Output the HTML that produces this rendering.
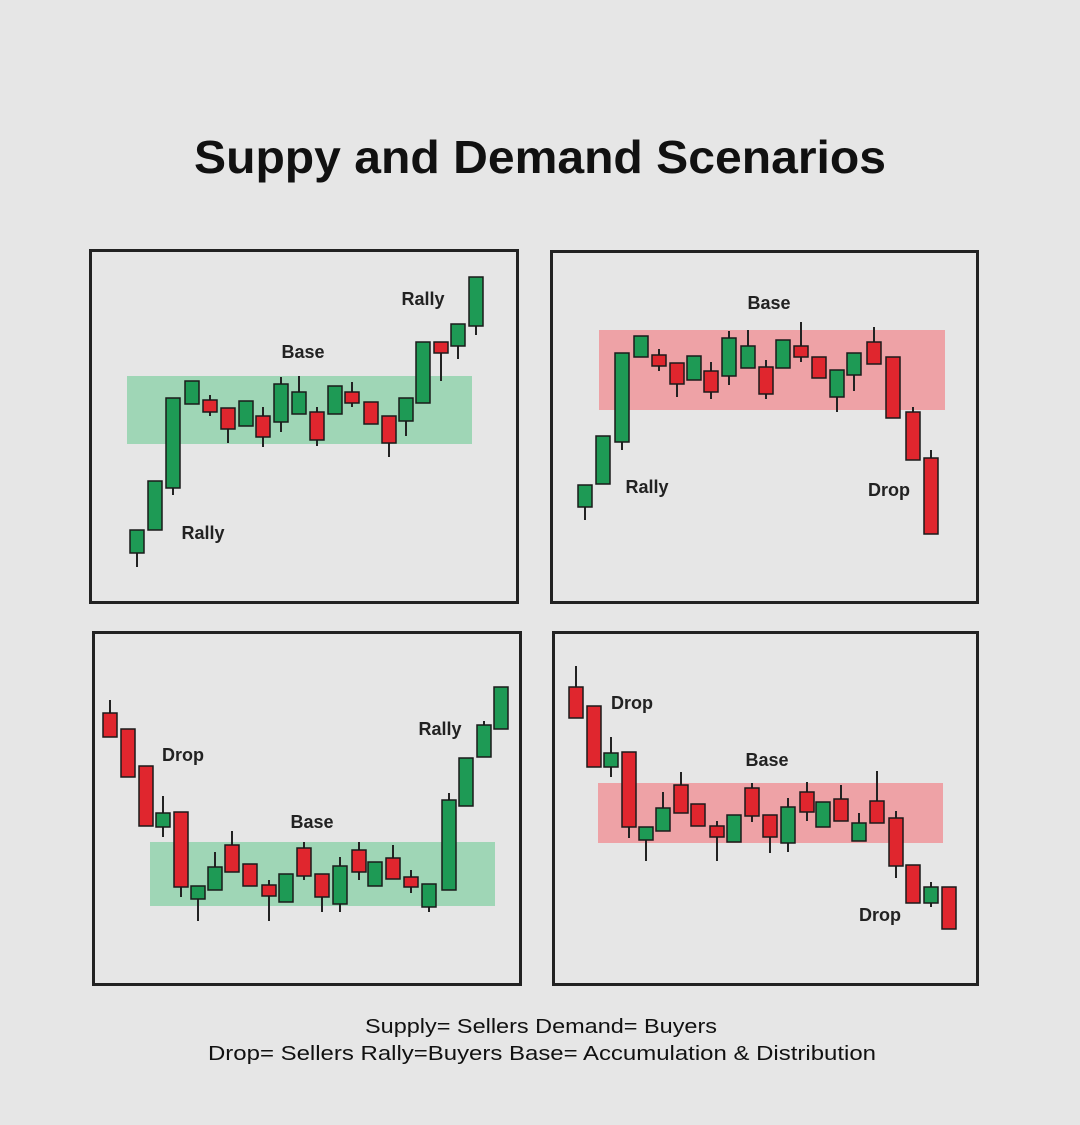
<!DOCTYPE html>
<html><head><meta charset="utf-8"><style>
html,body{margin:0;padding:0;background:#e6e6e6;}
svg{display:block;}
text{font-family:"Liberation Sans",sans-serif;}
</style></head><body>
<svg id="s" width="1080" height="1125" viewBox="0 0 1080 1125" xmlns="http://www.w3.org/2000/svg">
<rect width="1080" height="1125" fill="#e6e6e6"/>
<text x="540" y="173" text-anchor="middle" font-size="46" font-weight="bold" fill="#111" textLength="692" lengthAdjust="spacingAndGlyphs">Suppy and Demand Scenarios</text>
<g fill="none" stroke="#222" stroke-width="3">
<rect x="90.5" y="250.5" width="427" height="352"/>
<rect x="551.5" y="251.5" width="426" height="351"/>
<rect x="93.5" y="632.5" width="427" height="352"/>
<rect x="553.5" y="632.5" width="424" height="352"/>
</g>
<rect x="127" y="376" width="345" height="68" fill="#9fd6b6"/>
<rect x="599" y="330" width="346" height="80" fill="#eea2a6"/>
<rect x="150" y="842" width="345" height="64" fill="#9fd6b6"/>
<rect x="598" y="783" width="345" height="60" fill="#eea2a6"/>
<g id="c"></g>
<g font-size="18" font-weight="bold" fill="#222" text-anchor="middle">
<text x="303" y="358">Base</text>
<text x="203" y="539">Rally</text>
<text x="423" y="305">Rally</text>
<text x="769" y="309">Base</text>
<text x="647" y="493">Rally</text>
<text x="889" y="496">Drop</text>
<text x="183" y="761">Drop</text>
<text x="312" y="828">Base</text>
<text x="440" y="735">Rally</text>
<text x="632" y="709">Drop</text>
<text x="767" y="766">Base</text>
<text x="880" y="921">Drop</text>
</g>
<g font-size="20" fill="#111" text-anchor="middle">
<text x="541" y="1033" textLength="352" lengthAdjust="spacingAndGlyphs">Supply= Sellers Demand= Buyers</text>
<text x="542" y="1060" textLength="668" lengthAdjust="spacingAndGlyphs">Drop= Sellers Rally=Buyers Base= Accumulation &amp; Distribution</text>
</g>
</svg>
<script>
// x, bodyTop, bodyBottom, wickTop, wickBottom, color
var G='#1e9a55',R='#e0262e';
var d=[
[137,530,553,530,567,G],[155,481,530,481,530,G],[173,398,488,398,495,G],[192,381,404,381,404,G],[210,400,412,395,416,R],[228,408,429,408,443,R],[246,401,426,401,426,G],[263,416,437,407,447,R],[281,384,422,377,432,G],[299,392,414,376,414,G],[317,412,440,407,446,R],[335,386,414,386,414,G],[352,392,403,382,407,R],[371,402,424,402,424,R],[389,416,443,416,457,R],[406,398,421,398,436,G],[423,342,403,342,403,G],[441,342,353,342,381,R],[458,324,346,324,359,G],[476,277,326,277,335,G],
[585,485,507,485,520,G],[603,436,484,436,484,G],[622,353,442,353,450,G],[641,336,357,336,357,G],[659,355,366,349,371,R],[677,363,384,363,397,R],[694,356,380,356,380,G],[711,371,392,362,399,R],[729,338,376,331,385,G],[748,346,368,330,368,G],[766,367,394,360,399,R],[783,340,368,340,368,G],[801,346,357,322,362,R],[819,357,378,357,378,R],[837,370,397,370,412,G],[854,353,375,353,391,G],[874,342,364,327,364,R],[893,357,418,357,418,R],[913,412,460,407,460,R],[931,458,534,450,534,R],
[110,713,737,700,737,R],[128,729,777,729,777,R],[146,766,826,766,826,R],[163,813,827,796,837,G],[181,812,887,812,897,R],[198,886,899,886,921,G],[215,867,890,852,890,G],[232,845,872,831,872,R],[250,864,886,864,886,R],[269,885,896,880,921,R],[286,874,902,874,902,G],[304,848,876,842,880,R],[322,874,897,874,912,R],[340,866,904,857,912,G],[359,850,872,842,880,R],[375,862,886,862,886,G],[393,858,879,845,879,R],[411,877,887,870,893,R],[429,884,907,884,912,G],[449,800,890,793,890,G],[466,758,806,758,806,G],[484,725,757,721,757,G],[501,687,729,687,729,G],
[576,687,718,666,718,R],[594,706,767,706,767,R],[611,753,767,737,777,G],[629,752,827,752,838,R],[646,827,840,827,861,G],[663,808,831,792,831,G],[681,785,813,772,813,R],[698,804,826,804,826,R],[717,826,837,821,861,R],[734,815,842,815,842,G],[752,788,816,783,822,R],[770,815,837,815,853,R],[788,807,843,798,852,G],[807,792,812,782,821,R],[823,802,827,802,827,G],[841,799,821,785,821,R],[859,823,841,813,841,G],[877,801,823,771,823,R],[896,818,866,811,878,R],[913,865,903,865,903,R],[931,887,903,882,907,G],[949,887,929,887,929,R]
];
var g=document.getElementById('c'),ns='http://www.w3.org/2000/svg',h='';
d.forEach(function(c){
h+='<line x1="'+c[0]+'" y1="'+c[3]+'" x2="'+c[0]+'" y2="'+c[4]+'" stroke="#222" stroke-width="2"/>';
h+='<rect x="'+(c[0]-7)+'" y="'+c[1]+'" width="14" height="'+(c[2]-c[1])+'" fill="'+c[5]+'" stroke="#1a1a1a" stroke-width="1.5"/>';
});
g.innerHTML=h;
</script>
</body></html>
